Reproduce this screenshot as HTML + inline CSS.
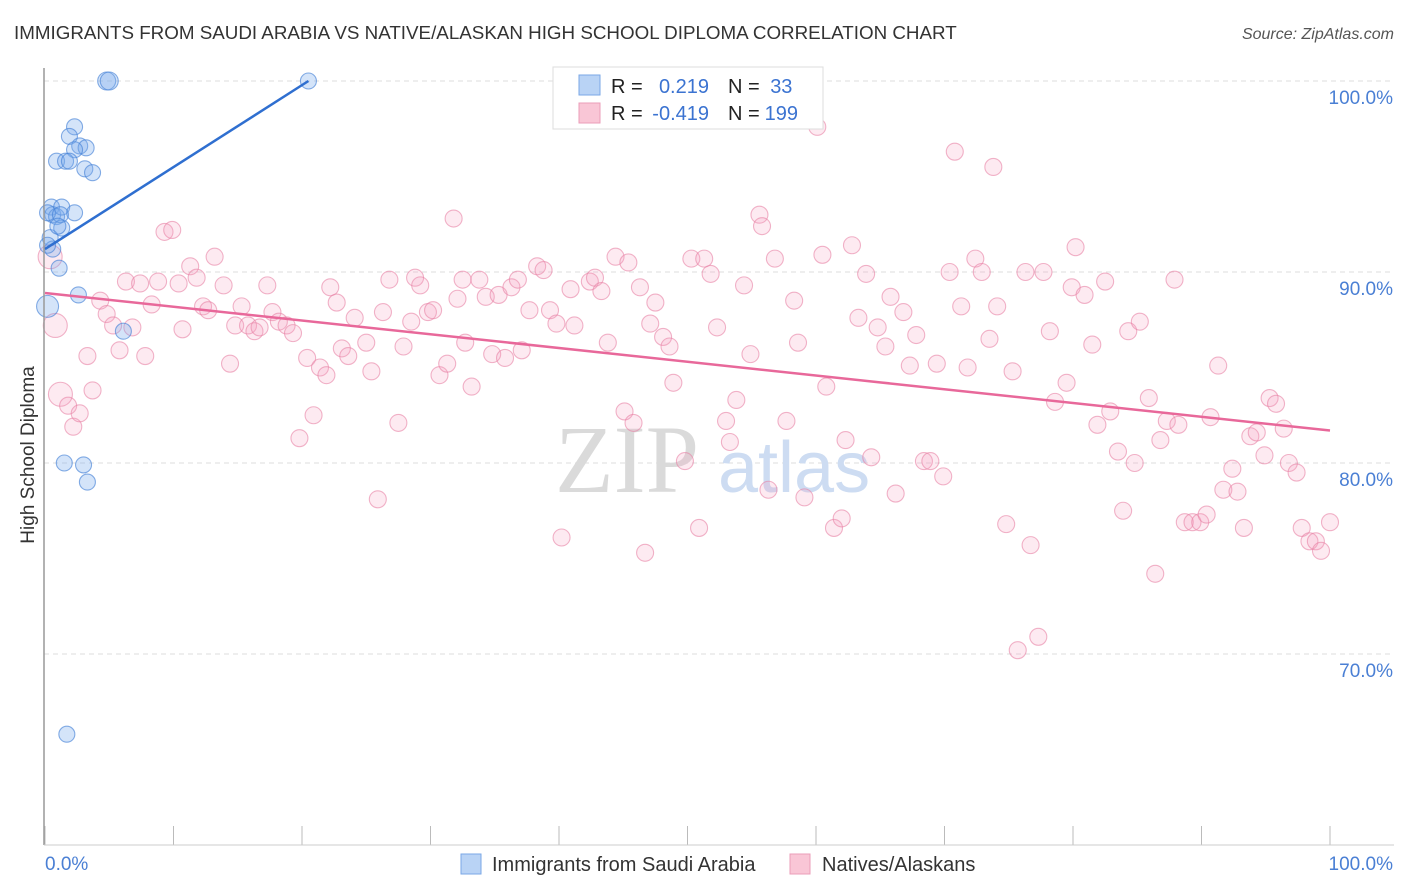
<!DOCTYPE html>
<html><head><meta charset="utf-8"><style>
body{margin:0;background:#fff;font-family:"Liberation Sans",sans-serif}
svg{display:block}
</style></head><body>
<svg width="1406" height="892" viewBox="0 0 1406 892" xmlns="http://www.w3.org/2000/svg">
<text x="14" y="39" font-size="18.8" fill="#333">IMMIGRANTS FROM SAUDI ARABIA VS NATIVE/ALASKAN HIGH SCHOOL DIPLOMA CORRELATION CHART</text>
<text x="1394" y="39" font-size="16" fill="#555" font-style="italic" text-anchor="end">Source: ZipAtlas.com</text>
<g id="grid"></g>
<text x="555" y="492" font-size="96" fill="#dadada" font-family="Liberation Serif">ZIP</text>
<text x="718" y="492" font-size="72" fill="#cddcf2">atlas</text>
<g id="pts"></g>
<g id="lines"></g>
<line x1="44" y1="68" x2="44" y2="845" stroke="#999" stroke-width="1.5"/>
<line x1="44" y1="845" x2="1394" y2="845" stroke="#ccc"/>
<text transform="translate(34,455) rotate(-90)" font-size="19" fill="#333" text-anchor="middle">High School Diploma</text>
<text x="45" y="870" font-size="19" fill="#4a7fd4">0.0%</text>
<text x="1393" y="870" font-size="19" fill="#4a7fd4" text-anchor="end">100.0%</text>
<g>
<rect x="461" y="854" width="20" height="20" fill="#b9d3f5" stroke="#7aa7e6"/>
<text x="492" y="871" font-size="20" fill="#333">Immigrants from Saudi Arabia</text>
<rect x="790" y="854" width="20" height="20" fill="#f9c6d6" stroke="#eb9db8"/>
<text x="822" y="871" font-size="20" fill="#333">Natives/Alaskans</text>
</g>
<g>
<rect x="553" y="67" width="270" height="62" fill="#fff" stroke="#ddd"/>
<rect x="579" y="75" width="21" height="20" fill="#b9d3f5" stroke="#7aa7e6"/>
<rect x="579" y="103" width="21" height="20" fill="#f9c6d6" stroke="#eb9db8"/>
<text font-size="20" fill="#222">
<tspan x="611" y="93">R =</tspan><tspan x="709" y="93" fill="#3b73d1" text-anchor="end">0.219</tspan><tspan x="728" y="93">N =</tspan><tspan x="798" y="93" fill="#3b73d1" text-anchor="end">33</tspan>
<tspan x="611" y="120">R =</tspan><tspan x="709" y="120" fill="#3b73d1" text-anchor="end">-0.419</tspan><tspan x="728" y="120">N =</tspan><tspan x="798" y="120" fill="#3b73d1" text-anchor="end">199</tspan>
</text>
</g>
</svg>
<script>
const yTicks=[100,90,80,70];
const yTickLabels=["100.0%","90.0%","80.0%","70.0%"];
const xTicks=[0,10,20,30,40,50,60,70,80,90,100];
const blueX=[4.8,5.0,20.5,2.3,1.9,2.7,3.2,2.3,0.9,1.6,1.9,3.1,3.7,0.5,0.6,0.9,1.3,2.3,1.3,0.4,0.6,1.1,2.6,0.2,6.1,1.5,3.0,3.3,1.7,0.2,1.2,1.0,0.2];
const blueY=[100,100,100,97.6,97.1,96.6,96.5,96.4,95.8,95.8,95.8,95.4,95.2,93.4,93.0,92.9,93.4,93.1,92.3,91.8,91.2,90.2,88.8,88.2,86.9,80.0,79.9,79.0,65.8,93.1,93.0,92.4,91.4];
const pinkX=[0.4,0.8,1.2,1.8,2.2,2.7,3.3,3.7,4.3,4.8,5.3,5.8,6.8,6.3,7.4,7.8,8.3,8.8,9.3,9.9,10.4,10.7,11.3,11.8,12.3,12.7,13.2,13.9,14.4,14.8,15.3,15.8,16.3,16.7,17.3,17.7,18.2,18.8,19.3,19.8,20.4,20.9,21.4,21.9,22.2,22.7,23.1,23.6,24.1,25.0,25.4,25.9,26.3,26.8,27.5,27.9,28.5,28.8,29.2,29.8,30.2,30.7,31.3,31.8,32.1,32.5,32.7,33.2,33.8,34.3,34.8,35.3,35.8,36.3,36.8,37.1,37.7,38.3,38.8,39.3,39.8,40.2,40.9,41.2,42.4,42.8,43.3,43.8,44.4,45.1,45.4,45.8,46.3,46.7,47.1,47.5,48.1,48.6,48.9,49.8,50.3,50.9,51.3,51.8,52.3,53.0,53.3,53.8,54.4,54.9,55.6,55.8,56.3,56.8,57.7,58.3,58.6,59.1,60.1,60.5,60.8,61.4,62.0,62.3,62.8,63.3,63.9,64.3,64.8,65.4,65.8,66.2,66.8,67.3,67.8,68.4,68.9,69.4,69.9,70.4,70.8,71.3,71.8,72.4,72.9,73.5,73.8,74.1,74.8,75.3,75.7,76.3,76.7,77.3,77.7,78.2,78.6,79.5,79.9,80.2,80.9,81.5,81.9,82.5,82.9,83.5,83.9,84.3,84.8,85.2,85.9,86.4,86.8,87.3,87.9,88.2,88.7,89.3,89.9,90.4,90.7,91.3,91.7,92.4,92.8,93.3,93.8,94.3,94.9,95.3,95.8,96.4,96.8,97.4,97.8,98.4,98.9,99.3,100.0];
const pinkY=[90.8,87.2,83.6,83.0,81.9,82.6,85.6,83.8,88.5,87.8,87.2,85.9,87.1,89.5,89.4,85.6,88.3,89.5,92.1,92.2,89.4,87.0,90.3,89.7,88.2,88.0,90.8,89.3,85.2,87.2,88.2,87.2,86.9,87.1,89.3,87.9,87.4,87.2,86.8,81.3,85.5,82.5,85.0,84.6,89.2,88.4,86.0,85.6,87.6,86.3,84.8,78.1,87.9,89.6,82.1,86.1,87.4,89.7,89.3,87.9,88.0,84.6,85.2,92.8,88.6,89.6,86.3,84.0,89.6,88.7,85.7,88.8,85.5,89.2,89.6,85.9,88.0,90.3,90.1,88.0,87.3,76.1,89.1,87.2,89.5,89.7,89.0,86.3,90.8,82.7,90.5,82.1,89.2,75.3,87.3,88.4,86.6,86.1,84.2,80.1,90.7,76.6,90.7,89.9,87.1,82.2,81.1,83.3,89.3,85.7,93.0,92.4,78.6,90.7,82.2,88.5,86.3,78.2,97.6,90.9,84.0,76.6,77.1,81.2,91.4,87.6,89.9,80.3,87.1,86.1,88.7,78.4,87.9,85.1,86.7,80.1,80.1,85.2,79.3,90.0,96.3,88.2,85.0,90.7,90.0,86.5,95.5,88.2,76.8,84.8,70.2,90.0,75.7,70.9,90.0,86.9,83.2,84.2,89.2,91.3,88.8,86.2,82.0,89.5,82.7,80.6,77.5,86.9,80.0,87.4,83.4,74.2,81.2,82.2,89.6,82.0,76.9,76.9,76.9,77.3,82.4,85.1,78.6,79.7,78.5,76.6,81.4,81.6,80.4,83.4,83.1,81.8,80.0,79.5,76.6,75.9,75.9,75.4,76.9];
const blueTrendX=[0,20.5];
const blueTrendY=[91.2,100];
const pinkTrendX=[0,100];
const pinkTrendY=[88.9,81.7];
const NS="http://www.w3.org/2000/svg";
const sx=v=>45+v*12.85;
const sy=v=>81+(100-v)*19.1;
function mk(t,a,p){const e=document.createElementNS(NS,t);for(const k in a)e.setAttribute(k,a[k]);p.appendChild(e);return e;}
const grid=document.getElementById('grid');
yTicks.forEach((t,i)=>{
 const l=mk('line',{x1:44,x2:1394,y1:sy(t),y2:sy(t),stroke:'#ddd','stroke-dasharray':'5,4'},grid);
 
 
 const tx=mk('text',{x:1393,y:sy(t)+23,'font-size':19,fill:'#4a7fd4','text-anchor':'end'},grid);
 tx.textContent=yTickLabels[i];
 
 
});
xTicks.forEach(t=>{
 const l=mk('line',{x1:sx(t),x2:sx(t),y1:826,y2:845,stroke:'#bbb'},grid);
 
 
});
const pts=document.getElementById('pts');
pinkX.forEach((x,i)=>{
 const r=i<3?12:8.5;
 const c=mk('circle',{cx:sx(x),cy:sy(pinkY[i]),r:r,fill:'rgba(244,160,190,0.22)',stroke:'rgba(232,130,165,0.6)','stroke-width':1.1},pts);
 
 
});
blueX.forEach((x,i)=>{
 const r=(i==23)?11:(i<2?9:8);
 const c=mk('circle',{cx:sx(x),cy:sy(blueY[i]),r:r,fill:'rgba(120,170,235,0.32)',stroke:'rgba(70,130,215,0.65)','stroke-width':1.1},pts);
 
 
});
const lines=document.getElementById('lines');
const bl=mk('line',{x1:sx(blueTrendX[0]),y1:sy(blueTrendY[0]),x2:sx(blueTrendX[1]),y2:sy(blueTrendY[1]),stroke:'#2f6fd0','stroke-width':2.5},lines);


const pl=mk('line',{x1:sx(pinkTrendX[0]),y1:sy(pinkTrendY[0]),x2:sx(pinkTrendX[1]),y2:sy(pinkTrendY[1]),stroke:'#e8689a','stroke-width':2.5},lines);


</script>
</body></html>
